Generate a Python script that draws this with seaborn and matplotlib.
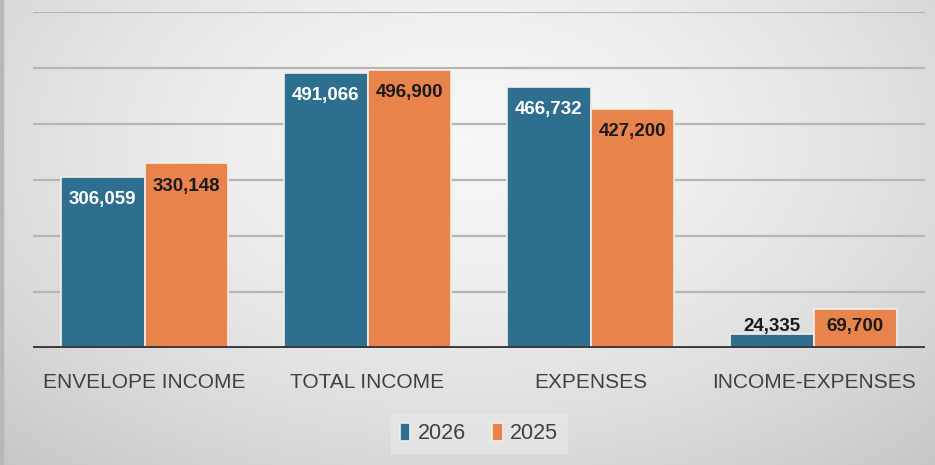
import numpy as np
import pandas as pd
import matplotlib
matplotlib.use('Agg')
import matplotlib.pyplot as plt
import seaborn as sns

# datos del grafico
categorias = ["ENVELOPE INCOME", "TOTAL INCOME", "EXPENSES", "INCOME-EXPENSES"]
valores_2026 = [306059, 491066, 466732, 24335]
valores_2025 = [330148, 496900, 427200, 69700]
anios = ["2026", "2025"]

azul = "#2E6E8E"
naranja = "#E8834C"

df = pd.DataFrame({
    "categoria": categorias * 2,
    "valor": valores_2026 + valores_2025,
    "anio": [anios[0]] * 4 + [anios[1]] * 4,
})

sns.set_style("white")
plt.rcParams['font.family'] = ['Liberation Sans', 'DejaVu Sans']

fig = plt.figure(figsize=(9.35, 4.65), dpi=100)

# fondo con degradado gris
bg = fig.add_axes([0, 0, 1, 1], zorder=-10)
yy, xx = np.mgrid[0:1:300j, 0:1:600j]
r = np.sqrt(((xx - 0.5) / 0.75) ** 2 + ((yy - 0.3) / 0.95) ** 2)
g = 0.965 - 0.19 * np.clip(r, 0, 1.2) ** 1.6
img = np.dstack([g, g, g])
bg.imshow(img, extent=[0, 1, 0, 1], aspect='auto', origin='upper')
bg.axvspan(0, 0.0035, color="#b8b8b8")
bg.set_axis_off()

ax = fig.add_axes([33 / 935, 1 - 348 / 465, (925 - 33) / 935, (348 - 12) / 465])
ax.patch.set_alpha(0)

sns.barplot(data=df, x="categoria", y="valor", hue="anio", hue_order=anios,
            palette=[azul, naranja], width=0.75, edgecolor="#f3efe9",
            linewidth=1.2, saturation=1, ax=ax, zorder=3)

ax.set_ylim(0, 600000)
ax.set_yticks(range(100000, 600001, 100000))
ax.yaxis.grid(True, color="#b5b5b5", linewidth=1.6, zorder=0)
ax.set_yticklabels([])
ax.tick_params(axis='y', length=0)
ax.axhline(0, color="#3a3a3a", linewidth=3.5, zorder=5)
for s in ax.spines.values():
    s.set_visible(False)
ax.set_xlabel("")
ax.set_ylabel("")
ax.tick_params(axis='x', length=0, pad=18, labelsize=15, labelcolor="#404040")

# etiquetas de valores
for cont, color_txt in zip(ax.containers, ["white", "#1a1a1a"]):
    for barra in cont:
        h = barra.get_height()
        x = barra.get_x() + barra.get_width() / 2
        y = max(h - 41000, 39000)
        c = color_txt if h - 41000 > 39000 else "#1a1a1a"
        ax.text(x, y, f"{h:,.0f}", ha="center", va="center", fontsize=13.5,
                fontweight="bold", color=c, zorder=6)

leg = ax.legend(loc="upper center", bbox_to_anchor=(0.5, -0.165), ncol=2,
                frameon=True, fontsize=15.5, handlelength=0.5, handleheight=0.9,
                handletextpad=0.35, columnspacing=1.2, borderpad=0.4)
leg.get_frame().set_facecolor("#e6e6e6")
leg.get_frame().set_edgecolor("#e6e6e6")
leg.get_frame().set_boxstyle("square", pad=0)
for t in leg.get_texts():
    t.set_color("#404040")

fig.savefig("out.png", dpi=100)
